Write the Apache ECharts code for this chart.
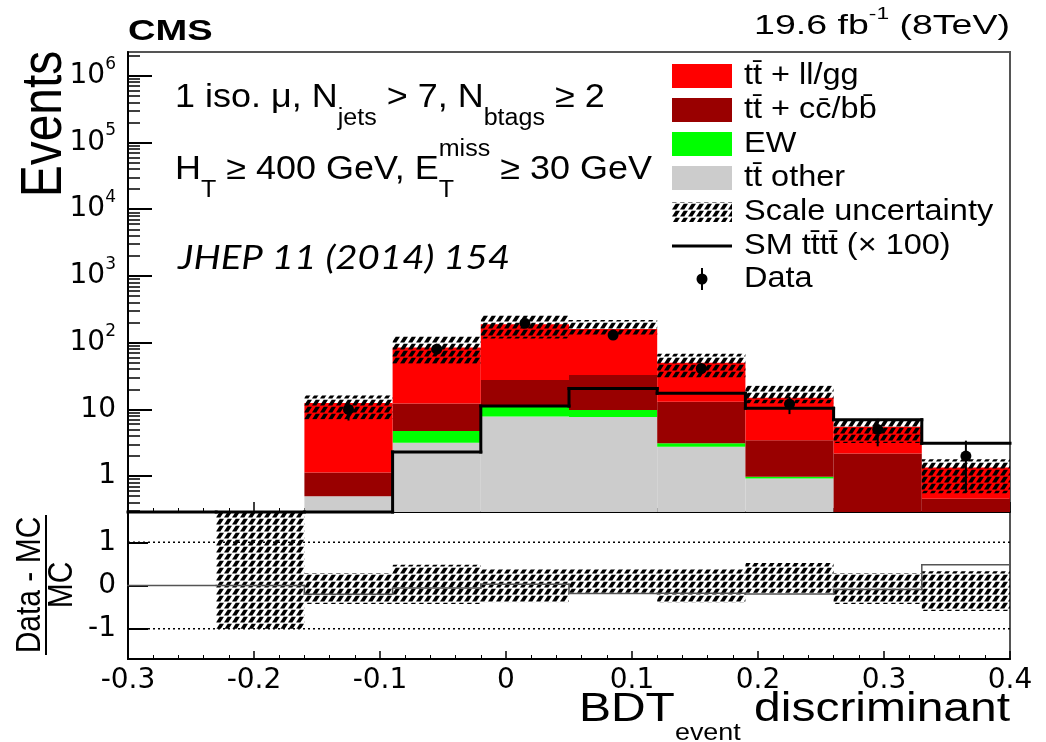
<!DOCTYPE html>
<html><head><meta charset="utf-8">
<script src="https://cdn.jsdelivr.net/npm/echarts@6/dist/echarts.min.js"></script>
<style>html,body{margin:0;padding:0;background:#fff}#c{width:1046px;height:742px}</style>
</head><body><div id="c"></div>
<script>
// ---------------- data ----------------
const binEdges   = [-0.3, -0.23, -0.16, -0.09, -0.02, 0.05, 0.12, 0.19, 0.26, 0.33, 0.4];
const ttOther    = [0, 0, 0.50, 3.16, 7.8, 7.7, 2.75, 0.92, 0, 0];
const ewVals     = [0, 0, 0, 1.57, 3.4, 2.1, 0.35, 0.06, 0, 0];
const ttccbb     = [0, 0, 0.63, 7.57, 16.3, 22.9, 9.9, 2.48, 2.19, 0.46];
const ttllgg     = [0, 0, 11.37, 72.7, 161.5, 127.3, 37, 11.5, 3.31, 0.89];
const scaleUp    = [null, 1.7, 0.29, 0.48, 0.37, 0.37, 0.37, 0.52, 0.29, 0.33];
const scaleDown  = [null, -1.0, -0.43, -0.43, -0.39, -0.17, -0.40, -0.17, -0.43, -0.59];
const smTTTTx100 = [0, 0, 0, 2.3, 11.2, 20.6, 17.4, 10.4, 7.0, 3.1];
const dataVals   = [null, null, 10, 80, 195, 130, 41, 12, 5, 2];
const dataErr    = [null, null, 3.2, 8.9, 14, 11.4, 6.4, 3.5, 2.2, 1.4];
const yLogTicks  = [1, 10, 100, 1000, 10000, 100000, 1000000];
const ratioTicks = [-1, 0, 1];
const legendNames = ['tt\u0304 + ll/gg', 'tt\u0304 + cc\u0304/bb\u0304', 'EW', 'tt\u0304 other',
                     'Scale uncertainty', 'SM tt\u0304tt\u0304 (\u00d7 100)', 'Data'];
// ----------------------------------------------------------------

const FONT = 'DejaVu Sans';
const HFONT = '"Liberation Sans"';
const Y_MIN = 0.29, Y_MAX = 2.27e6, R_MIN = -1.7, R_MAX = 1.7;
const nBins = binEdges.length - 1;
const clampY = v => Math.min(Y_MAX, Math.max(Y_MIN, v || 0));
const clampR = v => Math.min(R_MAX, Math.max(R_MIN, v));

const minorLog = [];
for (let d = -1; d <= 6; d++) for (let k = 2; k <= 9; k++) {
  const v = k * Math.pow(10, d); if (v > Y_MIN && v < Y_MAX) minorLog.push(v);
}

function makeHatch() {
  const c = document.createElement('canvas'); c.width = 8; c.height = 7;
  const g = c.getContext('2d'); g.fillStyle = '#000';
  g.beginPath(); g.moveTo(0, 6.5); g.lineTo(4.3, 6.5); g.lineTo(8, 0.8); g.lineTo(3.7, 0.8); g.closePath(); g.fill();
  return c;
}
const hatchFill = { image: makeHatch(), repeat: 'repeat' };

const layers = [
  { name: legendNames[3], vals: ttOther, color: '#cccccc' },
  { name: legendNames[2], vals: ewVals, color: '#00ff00' },
  { name: legendNames[1], vals: ttccbb, color: '#990000' },
  { name: legendNames[0], vals: ttllgg, color: '#ff0000' }
];
const cum = new Array(nBins).fill(0);
const series = [];
function rectRender(fill) {
  return function (params, api) {
    const a = api.coord([api.value(0), api.value(3)]);
    const b = api.coord([api.value(1), api.value(2)]);
    return { type: 'rect', shape: { x: a[0], y: a[1], width: b[0] - a[0], height: b[1] - a[1] },
             style: { fill: fill } };
  };
}
layers.forEach((L, li) => {
  const data = [];
  for (let i = 0; i < nBins; i++) {
    const lo = cum[i], hi = cum[i] + L.vals[i];
    if (L.vals[i] > 0) data.push([binEdges[i], binEdges[i + 1], clampY(lo), clampY(hi)]);
    cum[i] = hi;
  }
  series.push({ type: 'custom', name: L.name, xAxisIndex: 0, yAxisIndex: 0, z: 2 + li,
    renderItem: rectRender(L.color), data: data, encode: { x: [0, 1], y: [2, 3] }, silent: true });
});
const totalMC = cum.slice();

const hatchUpper = [];
for (let i = 0; i < nBins; i++) if (totalMC[i] > 0 && scaleUp[i] != null)
  hatchUpper.push([binEdges[i], binEdges[i + 1], clampY(totalMC[i] * (1 + scaleDown[i])), clampY(totalMC[i] * (1 + scaleUp[i]))]);
series.push({ type: 'custom', name: legendNames[4], xAxisIndex: 0, yAxisIndex: 0, z: 8,
  renderItem: rectRender(hatchFill), data: hatchUpper, encode: { x: [0, 1], y: [2, 3] }, silent: true });

function stepRender(color, width) {
  return function (params, api) {
    const x0 = api.value(0), x1 = api.value(1), v = api.value(2), vp = api.value(3);
    const a = api.coord([x0, v]), b = api.coord([x1, v]);
    const children = [{ type: 'line', shape: { x1: a[0], y1: a[1], x2: b[0], y2: b[1] },
      style: { stroke: color, lineWidth: width, lineCap: 'square' } }];
    if (params.dataIndex > 0) {
      const p = api.coord([x0, vp]);
      children.push({ type: 'line', shape: { x1: p[0], y1: p[1], x2: a[0], y2: a[1] },
        style: { stroke: color, lineWidth: width, lineCap: 'square' } });
    }
    return { type: 'group', children: children };
  };
}
const smData = [];
for (let i = 0; i < nBins; i++)
  smData.push([binEdges[i], binEdges[i + 1], clampY(smTTTTx100[i]), clampY(i > 0 ? smTTTTx100[i - 1] : 0)]);
series.push({ type: 'custom', name: legendNames[5], xAxisIndex: 0, yAxisIndex: 0, z: 10,
  renderItem: stepRender('#000', 3), data: smData, encode: { x: [0, 1], y: [2, 3] }, silent: true });

const ptData = [];
for (let i = 0; i < nBins; i++) if (dataVals[i] != null)
  ptData.push([(binEdges[i] + binEdges[i + 1]) / 2, dataVals[i], clampY(dataVals[i] - dataErr[i]), clampY(dataVals[i] + dataErr[i])]);
series.push({ type: 'custom', name: legendNames[6], xAxisIndex: 0, yAxisIndex: 0, z: 12,
  renderItem: function (params, api) {
    const c = api.coord([api.value(0), api.value(1)]);
    const lo = api.coord([api.value(0), api.value(2)]), hi = api.coord([api.value(0), api.value(3)]);
    return { type: 'group', children: [
      { type: 'line', shape: { x1: lo[0], y1: lo[1], x2: hi[0], y2: hi[1] }, style: { stroke: '#000', lineWidth: 2 } },
      { type: 'circle', shape: { cx: c[0], cy: c[1], r: 5.5 }, style: { fill: '#000' } }
    ] };
  }, data: ptData, encode: { x: 0, y: [1, 2, 3] }, silent: true });

// ratio panel
const ratioBand = [];
for (let i = 0; i < nBins; i++) if (scaleUp[i] != null)
  ratioBand.push([binEdges[i], binEdges[i + 1], clampR(scaleDown[i]), clampR(scaleUp[i])]);
series.push({ type: 'custom', name: 'ratioBand', xAxisIndex: 1, yAxisIndex: 2, z: 8,
  renderItem: rectRender(hatchFill), data: ratioBand, encode: { x: [0, 1], y: [2, 3] }, silent: true });
const ratioVals = totalMC.map((m, i) => (m > 0 && dataVals[i] != null) ? (dataVals[i] - m) / m : 0);
const ratioData = [];
for (let i = 0; i < nBins; i++)
  ratioData.push([binEdges[i], binEdges[i + 1], clampR(ratioVals[i]), clampR(i > 0 ? ratioVals[i - 1] : 0)]);
series.push({ type: 'custom', name: 'ratio', xAxisIndex: 1, yAxisIndex: 2, z: 9,
  renderItem: stepRender('#555', 1.5), data: ratioData, encode: { x: [0, 1], y: [2, 3] }, silent: true });
[1, -1].forEach(r => series.push({ type: 'line', xAxisIndex: 1, yAxisIndex: 2, z: 3, symbol: 'none', silent: true,
  data: [[binEdges[0], r], [binEdges[nBins], r]], lineStyle: { color: '#000', width: 1.5, type: [2, 3] } }));

const axisLabelRich = {
  b: { fontFamily: FONT, fontSize: 28, color: '#000', lineHeight: 40 },
  s: { fontFamily: FONT, fontSize: 17, color: '#000', verticalAlign: 'top', lineHeight: 22 }
};

const option = {
  animation: false,
  backgroundColor: '#fff',
  grid: [
    { left: 128, top: 52, width: 882, height: 460, show: true, borderColor: '#555', borderWidth: 2, backgroundColor: 'transparent' },
    { left: 128, top: 512, width: 882, height: 147, show: true, borderColor: '#555', borderWidth: 2, backgroundColor: 'transparent' }
  ],
  xAxis: [
    { type: 'value', gridIndex: 0, min: -0.3, max: 0.4, interval: 0.1,
      axisLine: { show: true, onZero: false, lineStyle: { color: '#000', width: 2 } },
      axisTick: { show: true, inside: true, length: 10, lineStyle: { color: '#000', width: 1.5 } },
      minorTick: { show: true, splitNumber: 5, length: 4, lineStyle: { color: '#000', width: 1 } },
      axisLabel: { show: false }, splitLine: { show: false } },
    { type: 'value', gridIndex: 1, min: -0.3, max: 0.4, interval: 0.1,
      axisLine: { show: true, onZero: false, lineStyle: { color: '#000', width: 2 } },
      axisTick: { show: true, inside: true, length: 8, lineStyle: { color: '#000', width: 1.5 } },
      minorTick: { show: true, splitNumber: 5, length: 4, lineStyle: { color: '#000', width: 1 } },
      axisLabel: { show: true, margin: 8, fontFamily: FONT, fontSize: 28, color: '#000',
        formatter: v => { const r = Math.round(v * 10) / 10; return r === 0 ? '0' : String(r); } },
      splitLine: { show: false } }
  ],
  yAxis: [
    { type: 'log', gridIndex: 0, logBase: 10, min: Y_MIN, max: Y_MAX,
      axisLine: { show: true, onZero: false, lineStyle: { color: '#000', width: 2 } },
      axisTick: { show: true, inside: true, length: 24, customValues: yLogTicks, lineStyle: { color: '#000', width: 2 } },
      axisLabel: { show: true, margin: 12, customValues: yLogTicks, rich: axisLabelRich,
        formatter: v => { const e = Math.round(Math.log10(v)); return e === 0 ? '{b|1}' : e === 1 ? '{b|10}' : '{b|10}{s|' + e + '}'; } },
      splitLine: { show: false }, minorTick: { show: false } },
    { type: 'log', gridIndex: 0, logBase: 10, min: Y_MIN, max: Y_MAX, position: 'left',
      axisLine: { show: false, onZero: false },
      axisTick: { show: true, inside: true, length: 12, customValues: minorLog, lineStyle: { color: '#000', width: 1.5 } },
      axisLabel: { show: false }, splitLine: { show: false } },
    { type: 'value', gridIndex: 1, min: R_MIN, max: R_MAX,
      axisLine: { show: true, onZero: false, lineStyle: { color: '#000', width: 2 } },
      axisTick: { show: true, inside: true, length: 20, customValues: ratioTicks, lineStyle: { color: '#000', width: 2 } },
      axisLabel: { show: true, margin: 12, customValues: ratioTicks, fontFamily: FONT, fontSize: 28, color: '#000' },
      splitLine: { show: false } }
  ],
  series: series,
  graphic: []
};

// ---- texts & legend ----
const G = option.graphic;
G.push({ type: 'text', x: 128, y: 32, scaleX: 1.27, style: { text: 'CMS', verticalAlign: 'middle', font: 'bold 30px ' + HFONT, fill: '#000' } });
G.push({ type: 'text', x: 1010, y: 26, scaleX: 1.34, style: { text: '{m|19.6 fb}{s|-1}{m| (8TeV)}', align: 'right', verticalAlign: 'middle',
  rich: { m: { fontFamily: 'Liberation Sans', fontSize: 28, lineHeight: 40, color: '#000' },
          s: { fontFamily: 'Liberation Sans', fontSize: 17, lineHeight: 22, verticalAlign: 'top', color: '#000' } } } });
const richMain = {
  m: { fontFamily: 'Liberation Sans', fontSize: 33, lineHeight: 64, color: '#000' },
  sub: { fontFamily: 'Liberation Sans', fontSize: 23, lineHeight: 20, verticalAlign: 'bottom', color: '#000' },
  subH: { fontFamily: 'Liberation Sans', fontSize: 23, lineHeight: 30, verticalAlign: 'bottom', color: '#000' },
  subE: { fontFamily: 'Liberation Sans', fontSize: 23, lineHeight: 16, verticalAlign: 'bottom', color: '#000' },
  sup: { fontFamily: 'Liberation Sans', fontSize: 23, lineHeight: 30, verticalAlign: 'top', color: '#000', padding: [0, 0, 0, -14] }
};
G.push({ type: 'text', x: 175, y: 98, scaleX: 1.09, style: { verticalAlign: 'middle',
  text: '{m|1 iso. \u03bc, N}{sub|jets}{m| > 7, N}{sub|btags}{m| \u2265 2}', rich: richMain } });
G.push({ type: 'text', x: 175, y: 170, scaleX: 1.09, style: { verticalAlign: 'middle',
  text: '{m|H}{subH|T}{m| \u2265 400 GeV, E}{subE|T}{sup|miss}{m| \u2265 30 GeV}', rich: richMain } });
G.push({ type: 'text', x: 178, y: 259, scaleX: 1.2, style: { text: 'JHEP 11 (2014) 154', verticalAlign: 'middle',
  font: 'italic 32px Lato', fill: '#000' } });
G.push({ type: 'text', x: 45, y: 124, rotation: Math.PI / 2, scaleY: 1.18, style: { text: 'Events', align: 'center', verticalAlign: 'middle',
  font: '48px ' + HFONT, fill: '#000' } });
G.push({ type: 'group', x: 46, y: 585, rotation: Math.PI / 2, children: [
  { type: 'text', x: 0, y: -16, scaleY: 1.15, style: { text: 'Data - MC', align: 'center', verticalAlign: 'middle', font: '30px ' + HFONT, fill: '#000' } },
  { type: 'line', shape: { x1: -70, y1: 0, x2: 70, y2: 0 }, style: { stroke: '#000', lineWidth: 2 } },
  { type: 'text', x: 0, y: 16, scaleY: 1.15, style: { text: 'MC', align: 'center', verticalAlign: 'middle', font: '30px ' + HFONT, fill: '#000' } }
] });
G.push({ type: 'text', x: 1010, y: 710, scaleX: 1.17, style: { align: 'right', verticalAlign: 'middle',
  text: '{m|BDT}{sub|event}{m| discriminant}',
  rich: { m: { fontFamily: 'Liberation Sans', fontSize: 41, lineHeight: 70, color: '#000' },
          sub: { fontFamily: 'Liberation Sans', fontSize: 23, lineHeight: 22, verticalAlign: 'bottom', color: '#000' } } } });

const legY = [76, 110, 144, 178, 212, 246, 279];
const legFill = ['#ff0000', '#990000', '#00ff00', '#cccccc'];
legendNames.forEach((nm, i) => {
  const y = legY[i];
  if (i < 4) G.push({ type: 'rect', shape: { x: 672, y: y - 12, width: 60, height: 24 }, style: { fill: legFill[i] } });
  else if (i === 4) G.push({ type: 'rect', shape: { x: 672, y: y - 10, width: 60, height: 20 }, style: { fill: hatchFill } });
  else if (i === 5) G.push({ type: 'line', shape: { x1: 672, y1: y, x2: 732, y2: y }, style: { stroke: '#000', lineWidth: 3 } });
  else {
    G.push({ type: 'line', shape: { x1: 702, y1: y - 11, x2: 702, y2: y + 11 }, style: { stroke: '#000', lineWidth: 2 } });
    G.push({ type: 'circle', shape: { cx: 702, cy: y, r: 5.5 }, style: { fill: '#000' } });
  }
  G.push({ type: 'text', x: 744, y: y, scaleX: 1.12, style: { text: nm, verticalAlign: 'middle', font: '29px ' + HFONT, fill: '#000' } });
});

const chart = echarts.init(document.getElementById('c'), null, { renderer: 'canvas' });
chart.setOption(option);
</script></body></html>
